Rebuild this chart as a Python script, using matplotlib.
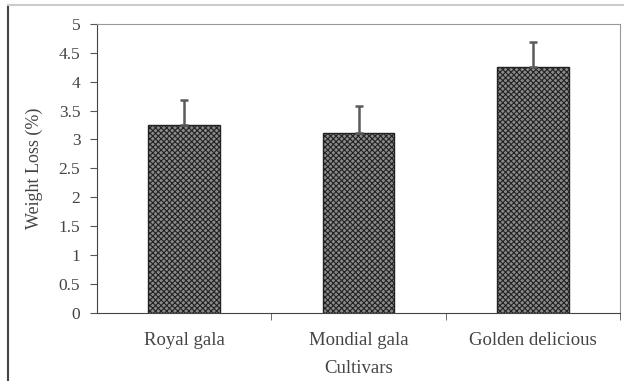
import matplotlib
matplotlib.use("Agg")
import matplotlib.pyplot as plt
from matplotlib.lines import Line2D

cultivars = ["Royal gala", "Mondial gala", "Golden delicious"]
weight_loss = [3.25, 3.11, 4.25]
err_up = [0.43, 0.47, 0.44]
yticks = [0, 0.5, 1, 1.5, 2, 2.5, 3, 3.5, 4, 4.5, 5]

plt.rcParams["font.family"] = ["Liberation Serif", "DejaVu Serif"]
plt.rcParams["hatch.linewidth"] = 0.8
plt.rcParams["hatch.color"] = "#1a1a1a"

fig = plt.figure(figsize=(6.24, 3.81), dpi=100)
ax = fig.add_axes([97 / 624, 1 - 312.7 / 381, (620 - 97) / 624, (312.7 - 24) / 381])

x = range(len(cultivars))
ax.bar(x, weight_loss, width=0.41, color="#8a8a8a", edgecolor="#222222",
       hatch="xxxxxx", linewidth=1.0, zorder=2)
ax.errorbar(x, weight_loss, yerr=[[0] * 3, err_up], fmt="none",
            ecolor="#5a5a5a", elinewidth=1.8, capsize=3, capthick=1.8, zorder=3)

ax.set_xlim(-0.5, 2.5)
ax.set_ylim(0, 5)
ax.set_yticks(yticks)
ax.set_yticklabels([f"{t:g}" for t in yticks], fontsize=12.5, color="#444444")
ax.set_xticks(list(x))
ax.set_xticklabels(cultivars, fontsize=13.5, color="#444444")
ax.tick_params(axis="x", length=0, pad=14)
ax.set_xticks([0.5, 1.5, 2.5], minor=True)
ax.tick_params(axis="x", which="minor", length=5, color="#555555")
ax.tick_params(axis="y", length=5, color="#555555", pad=7)

for side in ["left", "bottom"]:
    ax.spines[side].set_color("#444444")
for side in ["top", "right"]:
    ax.spines[side].set_color("#999999")

ax.set_ylabel("Weight Loss (%)", fontsize=13, color="#444444", labelpad=11)
ax.set_xlabel("Cultivars", fontsize=13.5, color="#444444", labelpad=8)

# outer frame: dark left rule and faint top rule
fig.add_artist(Line2D([8 / 624, 8 / 624], [0, 1 - 5 / 381], color="#444444", lw=1.5))
fig.add_artist(Line2D([8 / 624, 1], [1 - 5 / 381, 1 - 5 / 381], color="#cccccc", lw=1.5))

fig.savefig("out.png", dpi=100)
